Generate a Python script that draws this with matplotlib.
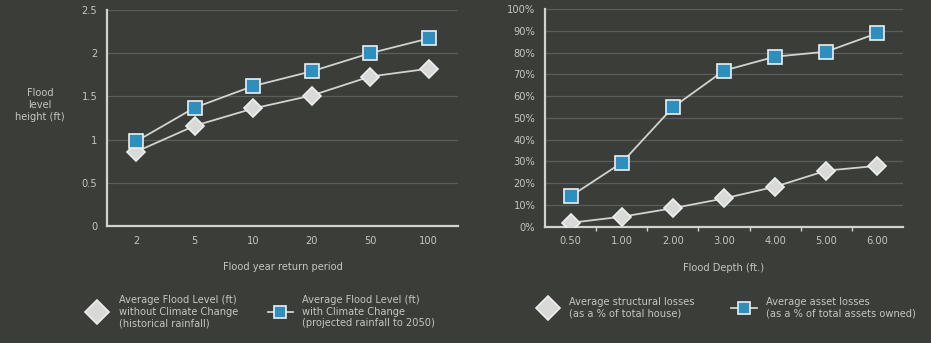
import matplotlib
matplotlib.use("Agg")
import matplotlib.pyplot as plt
from matplotlib.lines import Line2D
from matplotlib.ticker import MultipleLocator, PercentFormatter

# ---------------- datos ----------------
periodos = ["2", "5", "10", "20", "50", "100"]
nivel_sin_cc = [0.86, 1.16, 1.36, 1.51, 1.73, 1.82]
nivel_con_cc = [0.98, 1.37, 1.62, 1.79, 2.00, 2.17]
ticks_nivel = [0, 0.5, 1, 1.5, 2, 2.5]
etiquetas_nivel = ["0", "0.5", "1", "1.5", "2", "2.5"]

profundidades = ["0.50", "1.00", "2.00", "3.00", "4.00", "5.00", "6.00"]
perdida_estructural = [1.8, 4.6, 8.5, 13.0, 18.4, 25.8, 28.0]
perdida_bienes = [14.0, 29.4, 54.9, 71.8, 78.2, 80.5, 89.0]

# ---------------- estilo ----------------
fondo = "#3a3d38"
texto = "#c4c6c2"
linea = "#d2d3d0"
grid = "#5b5e58"
azul = "#2b8fbf"
gris = "#d9dad7"
plt.rcParams["font.family"] = "DejaVu Sans"
fs = 7.1

fig = plt.figure(figsize=(9.31, 3.43), dpi=100, facecolor=fondo)
ax1 = fig.add_axes([0.1149, 0.341, 0.377, 0.630], facecolor=fondo)
ax2 = fig.add_axes([0.5854, 0.339, 0.3845, 0.634], facecolor=fondo)

def estilo(ax):
    for s in ["top", "right"]:
        ax.spines[s].set_visible(False)
    for s in ["left", "bottom"]:
        ax.spines[s].set_color(linea)
        ax.spines[s].set_linewidth(1.6)
    ax.tick_params(colors=texto, labelsize=fs, length=0, pad=7)
    ax.grid(axis="y", color=grid, linewidth=0.9)
    ax.set_axisbelow(True)

def serie(ax, x, y, marker, color, ms):
    ax.plot(x, y, color=linea, linewidth=1.3, marker=marker, markersize=ms,
            markerfacecolor=color, markeredgecolor="#eeeeee", markeredgewidth=1.2,
            zorder=3)

# grafico izquierdo
x1 = range(len(periodos))
serie(ax1, x1, nivel_sin_cc, "D", gris, 9)
serie(ax1, x1, nivel_con_cc, "s", azul, 10)
ax1.set_xlim(-0.5, len(periodos) - 0.5)
ax1.set_ylim(0, 2.5)
ax1.set_xticks(list(x1))
ax1.set_xticklabels(periodos)
ax1.set_yticks(ticks_nivel)
ax1.set_yticklabels(etiquetas_nivel)
estilo(ax1)
ax1.set_xlabel("Flood year return period", color=texto, fontsize=fs, labelpad=12)
ax1.set_ylabel("Flood\nlevel\nheight (ft)", color=texto, fontsize=fs,
               rotation=0, ha="center", va="center")
ax1.yaxis.set_label_coords(-0.19, 0.56)

# grafico derecho
x2 = range(len(profundidades))
serie(ax2, x2, perdida_estructural, "D", gris, 9)
serie(ax2, x2, perdida_bienes, "s", azul, 10)
ax2.set_xlim(-0.5, len(profundidades) - 0.5)
ax2.set_ylim(0, 100)
ax2.set_xticks(list(x2))
ax2.set_xticklabels(profundidades)
ax2.yaxis.set_major_locator(MultipleLocator(10))
ax2.yaxis.set_major_formatter(PercentFormatter(decimals=0))
estilo(ax2)
ax2.set_xticks([i + 0.5 for i in range(len(profundidades) - 1)], minor=True)
ax2.tick_params(axis="x", which="minor", length=3, color=linea, width=1)
ax2.set_xlabel("Flood Depth (ft.)", color=texto, fontsize=fs, labelpad=12)

# leyendas
def h(marker, color, ms, lw):
    return Line2D([], [], color=linea, linewidth=lw, marker=marker, markersize=ms,
                  markerfacecolor=color, markeredgecolor="#eeeeee", markeredgewidth=1.2)

leg1 = fig.legend([h("D", gris, 12, 0), h("s", azul, 9, 1.3)],
                  ["Average Flood Level (ft)\nwithout Climate Change\n(historical rainfall)",
                   "Average Flood Level (ft)\nwith Climate Change\n(projected rainfall to 2050)"],
                  loc="upper left", bbox_to_anchor=(0.081, 0.165), ncol=2, frameon=False,
                  fontsize=fs, labelcolor=texto, handlelength=2.6, columnspacing=3.0,
                  handletextpad=0.9)
leg2 = fig.legend([h("D", gris, 12, 0), h("s", azul, 9, 1.3)],
                  ["Average structural losses\n(as a % of total house)",
                   "Average asset losses\n(as a % of total assets owned)"],
                  loc="upper left", bbox_to_anchor=(0.565, 0.16), ncol=2, frameon=False,
                  fontsize=fs, labelcolor=texto, handlelength=2.6, columnspacing=3.7,
                  handletextpad=0.9)

fig.savefig("out.png", dpi=100, facecolor=fondo)
